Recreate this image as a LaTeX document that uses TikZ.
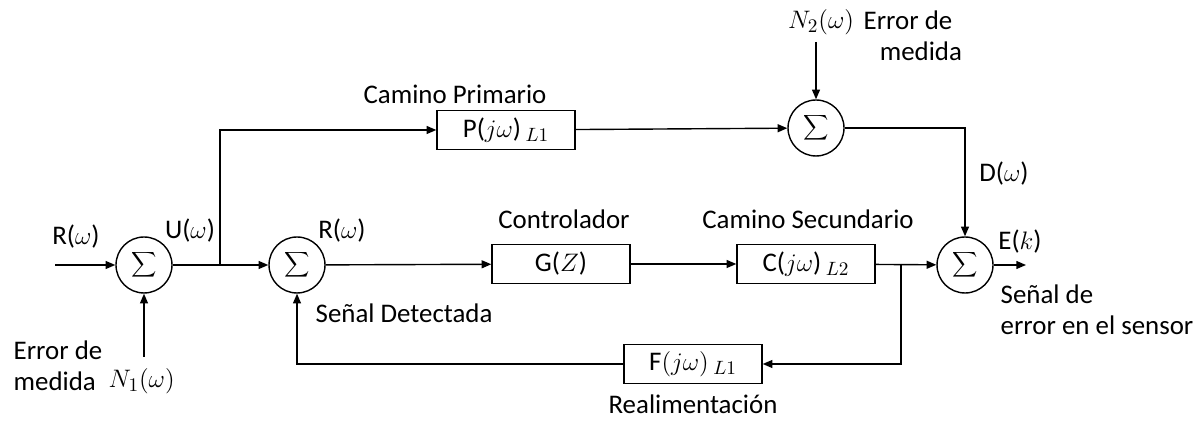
\documentclass[tikz,border=0pt]{standalone}
\usepackage{fontspec}
\setmainfont{Carlito}
\usetikzlibrary{arrows.meta}

\begin{document}
\begin{tikzpicture}[x=0.02cm, y=-0.02cm, line width=0.8pt,
    font=\fontsize{15.3}{18}\selectfont,
    >={Triangle[length=5.5pt,width=4.5pt]},
    suma/.style={circle, draw, minimum size=1.12cm, inner sep=0pt},
    bloque/.style={draw, minimum width=2.76cm, minimum height=0.77cm, inner sep=0pt},
    etiq/.style={inner sep=0pt, align=left}]
    \useasboundingbox (0,0) rectangle (1202,421);

    % sumadores
    \node[suma] (S1) at (144, 265) {$\displaystyle\sum$};
    \node[suma] (S2) at (297, 265) {$\displaystyle\sum$};
    \node[suma] (S3) at (816, 128) {$\displaystyle\sum$};
    \node[suma] (S4) at (965, 265) {$\displaystyle\sum$};

    % bloques
    \node[bloque] (P) at (506, 130) {P($j\omega$)\,$_{L1}$};
    \node[bloque] (G) at (561, 264) {G($Z$)};
    \node[bloque] (C) at (806, 264) {C($j\omega$)\,$_{L2}$};
    \node[bloque] (F) at (693, 364) {$\mathrm{F}(j\omega)$\,$_{L1}$};

    % puntos auxiliares
    \coordinate (in) at (55, 265);
    \coordinate (n1) at (144, 357);
    \coordinate (n2) at (816, 42);
    \coordinate (out) at (1026, 265);
    \coordinate (b1) at (220, 265);
    \coordinate (b2) at (901, 264);

    % conexiones
    \draw[->] (in) -- (S1);
    \draw[->] (n1) -- (S1);
    \draw (S1) -- (b1);
    \draw[->] (b1) -- (S2);
    \draw[->] (b1) |- (P);
    \draw[->] (P) -- (S3);
    \draw[->] (n2) -- (S3);
    \draw[->] (S3) -| (S4);
    \draw[->] (S2) -- (G);
    \draw[->] (G) -- (C);
    \draw[->] (C) -- (S4);
    \draw[->] (b2) |- (F);
    \draw[->] (F) -| (S2);
    \draw[->] (S4) -- (out);

    % textos
    \node[etiq] (tR1) at (76, 237) {R($\omega$)};
    \node[etiq] (tU) at (190, 231) {U($\omega$)};
    \node[etiq] (tR2) at (342, 231) {R($\omega$)};
    \node[etiq] (tCP) at (455, 94) {Camino Primario};
    \node[etiq] (tCtrl) at (564, 219) {Controlador};
    \node[etiq] (tCS) at (808, 219) {Camino Secundario};
    \node[etiq, anchor=west] (tSD) at (315, 313) {Señal Detectada};
    \node[etiq, anchor=west] (tE1) at (13, 350) {Error de};
    \node[etiq, anchor=west] (tM1) at (13, 381) {medida};
    \node[etiq, anchor=west] (tN1) at (108, 381) {$N_1(\omega)$};
    \node[etiq] (tN2) at (821, 22) {$N_2(\omega)$};
    \node[etiq, anchor=north west] (tE2) at (863, 10) {Error de\\\hspace*{0.6em}medida};
    \node[etiq] (tD) at (1004, 174) {D($\omega$)};
    \node[etiq] (tEk) at (1020, 242) {E($k$)};
    \node[etiq, anchor=north west] (tSe) at (1000, 284) {Señal de\\error en el sensor};
    \node[etiq] (tRe) at (693, 404) {Realimentación};
\end{tikzpicture}
\end{document}
